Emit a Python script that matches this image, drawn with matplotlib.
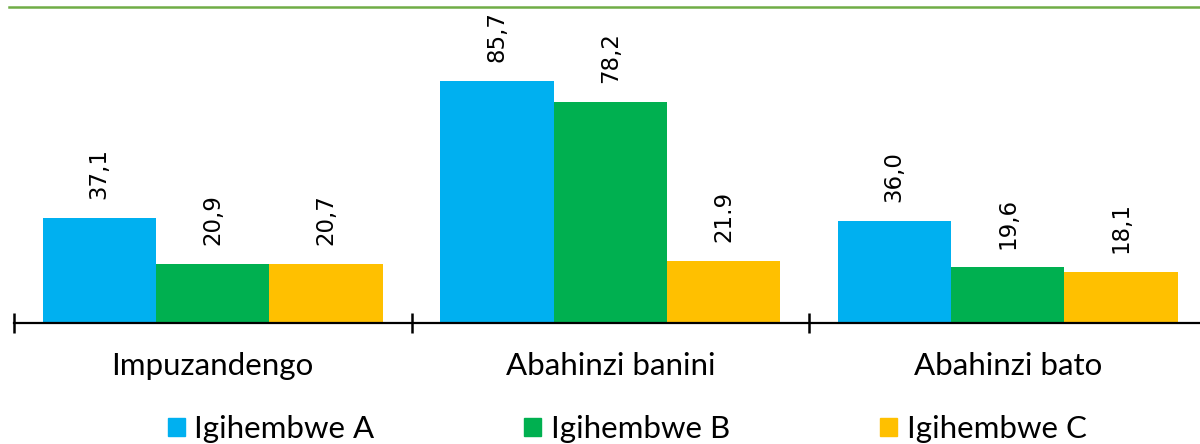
import numpy as np
import matplotlib.pyplot as plt
from matplotlib.lines import Line2D
from matplotlib.patches import Patch

categories = ["Impuzandengo", "Abahinzi banini", "Abahinzi bato"]
series_names = ["Igihembwe A", "Igihembwe B", "Igihembwe C"]
vals_a = [37.1, 85.7, 36.0]
vals_b = [20.9, 78.2, 19.6]
vals_c = [20.7, 21.9, 18.1]
labels_a = ["37,1", "85,7", "36,0"]
labels_b = ["20,9", "78,2", "19,6"]
labels_c = ["20,7", "21.9", "18,1"]
colors = ["#00B0F0", "#00B050", "#FFC000"]

fig = plt.figure(figsize=(12, 4.44), dpi=100)
ax = fig.add_axes([14/1200, (444-322.6)/444, 1192.5/1200, 281.9/444])

x = np.arange(len(categories))
w = 0.2855
series = [vals_a, vals_b, vals_c]
labs = [labels_a, labels_b, labels_c]
for i, (vals, lab) in enumerate(zip(series, labs)):
    xs = x + (i - 1) * w
    ax.bar(xs, vals, width=w, color=colors[i], label=series_names[i])
    for xx, v, t in zip(xs, vals, lab):
        ax.annotate(t, (xx, v), xytext=(0, 13.5), textcoords="offset points",
                    rotation=90, ha="center", va="bottom", fontsize=16.5,
                    color="#000000")

ax.set_xlim(-0.5, 2.5)
ax.set_ylim(0, 100)
for s in ["top", "right", "left"]:
    ax.spines[s].set_visible(False)
ax.spines["bottom"].set_linewidth(1.6)
ax.set_yticks([])
ax.set_xticks(x)
ax.set_xticklabels(categories, fontsize=22.5, family="Lato")
ax.tick_params(axis="x", which="major", length=0, pad=21)
ax.set_xticks([-0.5, 0.5, 1.5, 2.5], minor=True)
ax.tick_params(axis="x", which="minor", length=14, width=1.8, direction="inout")

# green line on top
fig.add_artist(Line2D([9/1200, 1.0], [1 - 7/444, 1 - 7/444], color="#70AD47", lw=1.8))

handles = [Patch(color=c) for c in colors]
fig.legend(handles, series_names, loc="center", bbox_to_anchor=(627/1200, 1 - 429/444),
           ncol=3, frameon=False, prop={"family": "Lato", "size": 22.5},
           handlelength=0.55, handleheight=0.55, handletextpad=0.3, columnspacing=4.8)

fig.savefig("out.png", dpi=100)
